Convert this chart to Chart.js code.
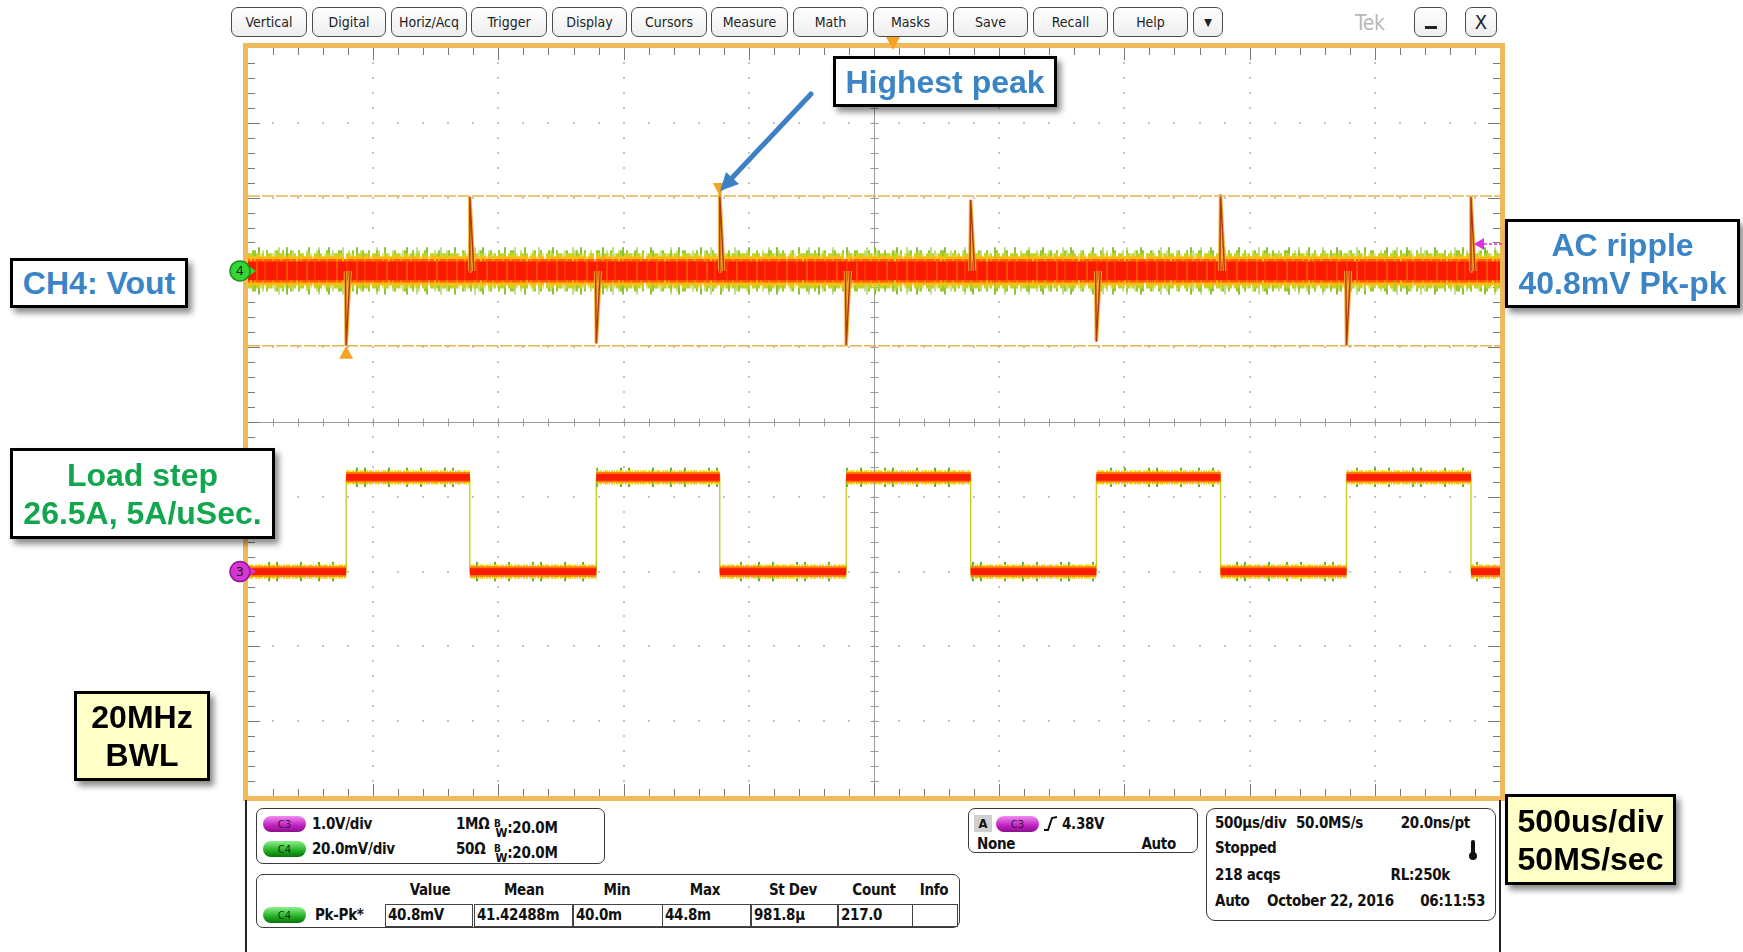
<!DOCTYPE html>
<html>
<head>
<meta charset="utf-8">
<script src="https://cdn.jsdelivr.net/npm/chart.js@4.4.1/dist/chart.umd.min.js"></script>
<style>
  body { margin: 0; width: 1743px; height: 952px; background: #fff; position: relative; overflow: hidden;
         font-family: 'Liberation Sans', Arial, sans-serif; }
  .abs { position: absolute; }
  .tek { position: absolute; font-family: 'Liberation Sans Narrow', 'DejaVu Sans Condensed', 'Roboto', sans-serif;
         font-size: 15px; line-height: 18px; color: #111; white-space: nowrap; font-weight: 600; letter-spacing: -0.3px; }
  .btn { position: absolute; top: 7px; height: 30px; box-sizing: border-box; border: 1.5px solid #4c4c4c; border-radius: 7px;
         background: linear-gradient(#ffffff, #eeeeee); display: flex; align-items: center; justify-content: center;
         font-family: 'Liberation Sans Narrow', 'DejaVu Sans Condensed', sans-serif; font-size: 14px; color: #222; }
  .panel { position: absolute; box-sizing: border-box; border: 1.5px solid #3a3a3a; border-radius: 7px; background: #fff; }
  .pill { position: absolute; width: 43px; height: 16px; border-radius: 9px; font: 10px 'DejaVu Sans', sans-serif;
          display: flex; align-items: center; justify-content: center; color: #3a1040; }
  .pill.c3 { background: linear-gradient(#f08cf0, #c020c0 60%, #8a108a); }
  .pill.c4 { background: linear-gradient(#8cf08c, #22b022 60%, #0a700a); color: #0a300a; }
  .cell { position: absolute; top: 904px; height: 23px; box-sizing: border-box; border: 1px solid #444;
          font-family: 'Liberation Sans Narrow', 'DejaVu Sans Condensed', sans-serif; font-size: 15px; line-height: 21px;
          padding-left: 2px; color: #111; font-weight: 600; letter-spacing: -0.3px; }
  .note { position: absolute; box-sizing: border-box; border: 3px solid #000; background: #fff; font-weight: bold;
          font-size: 32px; line-height: 38px; text-align: center; box-shadow: 4px 5px 6px rgba(0,0,0,0.45);
          display: flex; flex-direction: column; justify-content: center; }
  .note.yellow { background: #ffffc8; color: #000; }
  .sb { font-size: 10px; vertical-align: 6px; }
  .sw { font-size: 12px; vertical-align: -4px; margin-left: -5px; }
</style>
</head>
<body>

<!-- top menu bar -->
<div class="btn" style="left:231px;width:76px">Vertical</div>
<div class="btn" style="left:312px;width:74px">Digital</div>
<div class="btn" style="left:391px;width:76px">Horiz/Acq</div>
<div class="btn" style="left:471px;width:76px">Trigger</div>
<div class="btn" style="left:552px;width:75px">Display</div>
<div class="btn" style="left:631px;width:76px">Cursors</div>
<div class="btn" style="left:711px;width:77px">Measure</div>
<div class="btn" style="left:793px;width:75px">Math</div>
<div class="btn" style="left:873px;width:75px">Masks</div>
<div class="btn" style="left:953px;width:75px">Save</div>
<div class="btn" style="left:1033px;width:75px">Recall</div>
<div class="btn" style="left:1113px;width:75px">Help</div>
<div class="btn" style="left:1193px;width:30px;font-size:11px">&#9660;</div>
<div class="tek" style="left:1355px;top:11px;font-size:21px;line-height:24px;color:#b8b8b8;font-weight:normal">Tek</div>
<div class="btn" style="left:1414px;width:33px"><div style="width:12px;height:3px;background:#222;margin-top:10px"></div></div>
<div class="btn" style="left:1465px;width:32px;font-size:20px">X</div>

<!-- scope screen -->
<div class="abs" style="left:222px;top:36px;width:1290px;height:770px">
  <canvas id="scope"></canvas>
</div>

<!-- bottom status area -->
<div class="abs" style="left:245px;top:800px;width:2px;height:152px;background:#222"></div>
<div class="abs" style="left:1499px;top:800px;width:2px;height:152px;background:#222"></div>

<div class="panel" style="left:256px;top:808px;width:349px;height:56px"></div>
<div class="pill c3" style="left:263px;top:816px">C3</div>
<div class="tek" style="left:312px;top:815px">1.0V/div</div>
<div class="tek" style="left:456px;top:815px">1M&Omega;</div>
<div class="tek" style="left:494px;top:815px"><span class="sb">B</span><span class="sw">W</span>:20.0M</div>
<div class="pill c4" style="left:263px;top:841px">C4</div>
<div class="tek" style="left:312px;top:840px">20.0mV/div</div>
<div class="tek" style="left:456px;top:840px">50&Omega;</div>
<div class="tek" style="left:494px;top:840px"><span class="sb">B</span><span class="sw">W</span>:20.0M</div>

<div class="panel" style="left:256px;top:874px;width:704px;height:54px"></div>
<div class="tek" style="left:390px;top:881px;width:80px;text-align:center">Value</div>
<div class="tek" style="left:484px;top:881px;width:80px;text-align:center">Mean</div>
<div class="tek" style="left:577px;top:881px;width:80px;text-align:center">Min</div>
<div class="tek" style="left:665px;top:881px;width:80px;text-align:center">Max</div>
<div class="tek" style="left:753px;top:881px;width:80px;text-align:center">St Dev</div>
<div class="tek" style="left:834px;top:881px;width:80px;text-align:center">Count</div>
<div class="tek" style="left:904px;top:881px;width:60px;text-align:center">Info</div>
<div class="pill c4" style="left:263px;top:907px">C4</div>
<div class="tek" style="left:315px;top:906px">Pk-Pk*</div>
<div class="cell" style="left:385px;width:88px">40.8mV</div>
<div class="cell" style="left:474px;width:99px">41.42488m</div>
<div class="cell" style="left:573px;width:90px">40.0m</div>
<div class="cell" style="left:662px;width:89px">44.8m</div>
<div class="cell" style="left:751px;width:87px">981.8&micro;</div>
<div class="cell" style="left:838px;width:75px">217.0</div>
<div class="cell" style="left:912px;width:46px"></div>

<div class="panel" style="left:968px;top:808px;width:230px;height:45px"></div>
<div class="tek" style="left:974px;top:815px;width:18px;height:17px;background:#cfcfcf;text-align:center;font-size:13px">A</div>
<div class="pill c3" style="left:996px;top:816px">C3</div>
<svg class="abs" style="left:1043px;top:815px" width="16" height="17"><polyline points="1,15 5,15 9,3 14,2" fill="none" stroke="#111" stroke-width="2"/></svg>
<div class="tek" style="left:1062px;top:815px">4.38V</div>
<div class="tek" style="left:977px;top:835px">None</div>
<div class="tek" style="right:567px;top:835px">Auto</div>

<div class="panel" style="left:1206px;top:808px;width:290px;height:113px;border-radius:9px"></div>
<div class="tek" style="left:1215px;top:814px">500&micro;s/div</div>
<div class="tek" style="left:1296px;top:814px">50.0MS/s</div>
<div class="tek" style="right:273px;top:814px">20.0ns/pt</div>
<div class="tek" style="left:1215px;top:839px">Stopped</div>
<div class="abs" style="left:1471px;top:840px;width:4px;height:15px;background:#111;border-radius:2px"></div>
<div class="abs" style="left:1469px;top:852px;width:8px;height:8px;background:#111;border-radius:50%"></div>
<div class="tek" style="left:1215px;top:866px">218 acqs</div>
<div class="tek" style="right:293px;top:866px">RL:250k</div>
<div class="tek" style="left:1215px;top:892px">Auto</div>
<div class="tek" style="left:1267px;top:892px">October 22, 2016</div>
<div class="tek" style="right:258px;top:892px">06:11:53</div>

<!-- callouts -->
<div class="note" style="left:833px;top:56px;width:224px;height:51px;color:#3b85c6">Highest peak</div>
<div class="note" style="left:10px;top:258px;width:178px;height:50px;color:#3b85c6">CH4: Vout</div>
<div class="note" style="left:1505px;top:219px;width:235px;height:89px;color:#3b85c6"><div>AC ripple</div><div>40.8mV Pk-pk</div></div>
<div class="note" style="left:10px;top:448px;width:265px;height:91px;color:#12a64e"><div>Load step</div><div>26.5A, 5A/uSec.</div></div>
<div class="note yellow" style="left:74px;top:691px;width:136px;height:90px"><div>20MHz</div><div>BWL</div></div>
<div class="note yellow" style="left:1505px;top:794px;width:171px;height:91px"><div>500us/div</div><div>50MS/sec</div></div>

<svg class="abs" style="left:0;top:0;pointer-events:none" width="1743" height="952">
  <line x1="811" y1="94" x2="731" y2="179" stroke="#3d80c3" stroke-width="5" stroke-linecap="round"/>
  <polygon points="720,191 739,184 726,172" fill="#3d80c3"/>
</svg>

<script>
'use strict';

// ── Datos ─────────────────────────────────────────────────────
const timeSpanUs = [0, 5000];                       // 10 div x 500 us/div
const loadRiseUs = [392, 1391, 2389, 3388, 4387];   // flanco de subida del escalón de carga
const loadFallUs = [886, 1884, 2886, 3884, 4884];   // flanco de bajada
const voutDipMv = [-20.1, -19.4, -19.8, -18.9, -19.8];   // undershoot en cada subida
const voutPeakMv = [19.8, 20.7, 19.0, 20.4, 19.8];       // overshoot en cada bajada
const voutNoiseMv = [6.3, 5.5, 4.7, 3.9, 3.2, 2.5]; // envolventes del ruido, de fuera a dentro
const loadLevelsV = [0, 1.26];                      // nivel bajo / alto de CH3
const loadNoiseV = [0.13, 0.095, 0.07, 0.045];
const cursorMv = [20, -20];                         // cursores horizontales
const triggerLevelV = 4.38;
const triggerPosUs = 2576;

// Configuración de canales
const usPerDiv = 500;
const ch4MvPerDiv = 20, ch4OffsetDiv = 2.02;
const ch3VPerDiv = 1, ch3OffsetDiv = -2;
const spikeLeadUs = 3, spikeTailUs = 16;

const ch4Div = mv => ch4OffsetDiv + mv / ch4MvPerDiv;
const ch3Div = v => ch3OffsetDiv + v / ch3VPerDiv;

// ── Texturas de ruido (solo estilo) ───────────────────────────
function streakPattern(color, seq, colW, base) {
    const c = document.createElement('canvas');
    c.width = seq.length * colW; c.height = 4;
    const g = c.getContext('2d');
    if (base) { g.fillStyle = base; g.fillRect(0, 0, c.width, 4); }
    g.fillStyle = color;
    for (let i = 0; i < seq.length; i++) {
        if (seq[i] === '0') continue;
        g.globalAlpha = seq[i] === '1' ? 0.55 : 1;
        g.fillRect(i * colW, 0, colW, 4);
    }
    return g.createPattern(c, 'repeat');
}

const noiseFringe = streakPattern('#8cc03a', '0000200000010000002000000000100020000000000200001', 2);
const noiseGreen = streakPattern('#98ca30', '2000120002001002200010200012002000210020001', 2);
const noiseLime = streakPattern('#c4d426', '22102212012202210221201221022', 2);
const noiseYellow = streakPattern('#ffbc10', '2221222122202221222212221', 2);
const noiseOrange = streakPattern('#ff6400', '22122212222122021222122', 2);
const noiseRed = streakPattern('#ff4a00', '0010000200001000020001000', 2, '#fa1a00');
const loadGreen = streakPattern('#5cb030', '00002000000200000000000200020000000000020000', 2);
const loadYellow = streakPattern('#e8d418', '2212022122021222120221202212222102212', 1);

function loadPath(offsetV) {
    const low = loadLevelsV[0] + offsetV, high = loadLevelsV[1] + offsetV;
    const pts = [{ x: timeSpanUs[0], y: ch3Div(low) }];
    loadRiseUs.forEach((t, i) => {
        pts.push({ x: t, y: ch3Div(low) }, { x: t, y: ch3Div(high) });
        pts.push({ x: loadFallUs[i], y: ch3Div(high) }, { x: loadFallUs[i], y: ch3Div(low) });
    });
    pts.push({ x: timeSpanUs[1], y: ch3Div(low) });
    return pts;
}

function flat(mv) {
    return timeSpanUs.map(t => ({ x: t, y: ch4Div(mv) }));
}

function spikePoints() {
    const pts = [];
    loadRiseUs.forEach((t, i) => {
        pts.push({ x: t - spikeLeadUs, y: ch4Div(0) }, { x: t, y: ch4Div(voutDipMv[i]) },
                 { x: t + spikeTailUs, y: ch4Div(0) }, { x: t + spikeTailUs, y: null });
    });
    loadFallUs.forEach((t, i) => {
        pts.push({ x: t - spikeLeadUs, y: ch4Div(0) }, { x: t, y: ch4Div(voutPeakMv[i]) },
                 { x: t + spikeTailUs, y: ch4Div(0) }, { x: t + spikeTailUs, y: null });
    });
    return pts.sort((a, b) => a.x - b.x || (a.y === null) - (b.y === null));
}

const datasets = [];
let orden = 200;
function addBand(upper, lower, color) {
    const idx = datasets.length;
    datasets.push({ data: upper, borderWidth: 0, pointRadius: 0, fill: idx + 1, backgroundColor: color, order: orden });
    datasets.push({ data: lower, borderWidth: 0, pointRadius: 0, fill: false, order: orden });
    orden -= 2;
}

// CH3: flancos finos y bandas
datasets.push({ data: loadPath(0), borderColor: '#c8cf26', borderWidth: 1.4, pointRadius: 0, fill: false, order: 300 });
const loadColors = [loadGreen, loadYellow, '#ff7a00', '#f81c00'];
loadNoiseV.forEach((w, k) => addBand(loadPath(w), loadPath(-w), loadColors[k]));

// CH4: bandas de ruido
const voutColors = [noiseFringe, noiseGreen, noiseLime, noiseYellow, noiseOrange, noiseRed];
voutNoiseMv.forEach((w, k) => addBand(flat(w), flat(-w), voutColors[k]));

// CH4: picos
const spikes = spikePoints();
datasets.push({ data: spikes, borderColor: 'rgba(246,170,40,0.9)', borderWidth: 3.5, pointRadius: 0, fill: false, order: 20 });
datasets.push({ data: spikes, borderColor: '#b03a0c', borderWidth: 1.4, pointRadius: 0, fill: false, order: 19 });

// Cursores
cursorMv.forEach(mv => {
    datasets.push({ data: flat(mv), borderColor: '#e9b24e', borderWidth: 1.5, borderDash: [12, 2],
                    pointRadius: 0, fill: false, order: 10 });
});

// ── Retícula del osciloscopio ─────────────────────────────────
const graticule = {
    id: 'graticule',
    beforeDatasetsDraw(chart) {
        const { ctx, chartArea: a, scales: { x, y } } = chart;
        ctx.save();
        ctx.fillStyle = '#c4c4c4';
        for (let d = 1; d < 10; d++) {
            if (d === 5) continue;
            const px = Math.round(x.getPixelForValue(d * usPerDiv));
            for (let m = 1; m < 50; m++) {
                const py = Math.round(y.getPixelForValue(-5 + m * 0.2));
                ctx.fillRect(px - 1, py - 1, 2, 2);
            }
            const py2 = Math.round(y.getPixelForValue(d - 5));
            for (let m = 1; m < 50; m++) {
                const px2 = Math.round(x.getPixelForValue(m * usPerDiv / 5));
                ctx.fillRect(px2 - 1, py2 - 1, 2, 2);
            }
        }
        const cx = Math.round(x.getPixelForValue(5 * usPerDiv)) + 0.5;
        const cy = Math.round(y.getPixelForValue(0)) + 0.5;
        ctx.strokeStyle = '#9a9a9a';
        ctx.lineWidth = 1;
        ctx.beginPath();
        ctx.moveTo(a.left, cy); ctx.lineTo(a.right, cy);
        ctx.moveTo(cx, a.top); ctx.lineTo(cx, a.bottom);
        for (let m = 1; m < 50; m++) {
            const px = Math.round(x.getPixelForValue(m * usPerDiv / 5)) + 0.5;
            const py = Math.round(y.getPixelForValue(-5 + m * 0.2)) + 0.5;
            ctx.moveTo(px, cy - 4); ctx.lineTo(px, cy + 4);
            ctx.moveTo(cx - 4, py); ctx.lineTo(cx + 4, py);
        }
        ctx.stroke();
        ctx.strokeStyle = '#7a7a7a';
        ctx.beginPath();
        for (let m = 1; m < 50; m++) {
            const len = m % 5 === 0 ? 12 : 7;
            const px = Math.round(x.getPixelForValue(m * usPerDiv / 5)) + 0.5;
            const py = Math.round(y.getPixelForValue(-5 + m * 0.2)) + 0.5;
            ctx.moveTo(px, a.top); ctx.lineTo(px, a.top + len);
            ctx.moveTo(px, a.bottom); ctx.lineTo(px, a.bottom - len);
            ctx.moveTo(a.left, py); ctx.lineTo(a.left + len, py);
            ctx.moveTo(a.right, py); ctx.lineTo(a.right - len, py);
        }
        ctx.stroke();
        ctx.restore();
    },
    afterDraw(chart) {
        const { ctx, chartArea: a, scales: { x, y } } = chart;
        ctx.save();
        // marco naranja
        ctx.strokeStyle = '#f0b95c';
        ctx.lineWidth = 5;
        ctx.strokeRect(a.left - 2.5, a.top - 2.5, a.right - a.left + 5, a.bottom - a.top + 5);

        // triángulos de medición en el pico máximo y el mínimo
        const iMax = voutPeakMv.indexOf(Math.max(...voutPeakMv));
        const iMin = voutDipMv.indexOf(Math.min(...voutDipMv));
        const tri = (px, py, dir) => {
            ctx.beginPath();
            ctx.moveTo(px, py);
            ctx.lineTo(px - 7, py - dir * 13);
            ctx.lineTo(px + 7, py - dir * 13);
            ctx.closePath();
            ctx.fill();
        };
        ctx.fillStyle = '#f4a326';
        tri(x.getPixelForValue(loadFallUs[iMax]), y.getPixelForValue(ch4Div(cursorMv[0])), 1);
        tri(x.getPixelForValue(loadRiseUs[iMin]), y.getPixelForValue(ch4Div(cursorMv[1])), -1);
        tri(x.getPixelForValue(triggerPosUs), a.top + 2, 1);

        // marcadores de canal
        const chMark = (label, div, fill, edge) => {
            const py = y.getPixelForValue(div);
            const px = a.left - 8;
            ctx.fillStyle = fill;
            ctx.strokeStyle = edge;
            ctx.lineWidth = 1.5;
            ctx.beginPath();
            ctx.moveTo(px + 10, py - 4); ctx.lineTo(px + 16, py); ctx.lineTo(px + 10, py + 4);
            ctx.fill();
            ctx.fillRect(px + 6, py - 1, 6, 2);
            ctx.beginPath();
            ctx.arc(px, py, 10, 0, Math.PI * 2);
            ctx.fill(); ctx.stroke();
            ctx.fillStyle = '#222';
            ctx.font = '13px "DejaVu Sans", sans-serif';
            ctx.textAlign = 'center';
            ctx.textBaseline = 'middle';
            ctx.fillText(label, px, py + 1);
        };
        chMark('4', ch4OffsetDiv, '#34d634', '#1b8f1b');
        chMark('3', ch3OffsetDiv, '#d636d6', '#8f1b8f');

        // nivel de disparo (CH3) en el borde derecho
        const ty = y.getPixelForValue(ch3Div(triggerLevelV));
        ctx.fillStyle = '#e030e0';
        ctx.strokeStyle = '#e030e0';
        ctx.beginPath();
        ctx.moveTo(a.right - 26, ty); ctx.lineTo(a.right - 16, ty - 6); ctx.lineTo(a.right - 16, ty + 6);
        ctx.fill();
        ctx.lineWidth = 1.5;
        ctx.setLineDash([3, 2]);
        ctx.beginPath();
        ctx.moveTo(a.right - 16, ty); ctx.lineTo(a.right + 2, ty);
        ctx.stroke();
        ctx.restore();
    }
};

new Chart(document.getElementById('scope').getContext('2d'), {
    type: 'line',
    data: { datasets: datasets },
    options: {
        responsive: true,
        maintainAspectRatio: false,
        animation: false,
        events: [],
        layout: { padding: { left: 26, right: 12, top: 12, bottom: 10 } },
        scales: {
            x: { type: 'linear', min: timeSpanUs[0], max: timeSpanUs[1], display: false },
            y: { type: 'linear', min: -5, max: 5, display: false }
        },
        plugins: { legend: { display: false }, tooltip: { enabled: false } }
    },
    plugins: [graticule]
});
</script>
</body>
</html>
